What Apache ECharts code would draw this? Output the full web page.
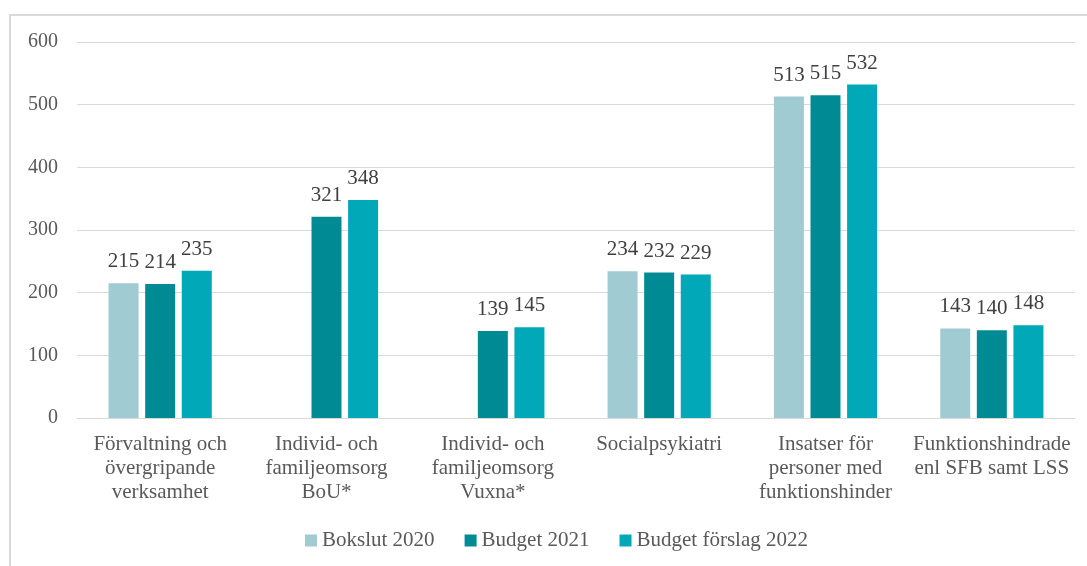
<!DOCTYPE html>
<html>
<head>
<meta charset="utf-8">
<script src="https://cdn.jsdelivr.net/npm/echarts@6/dist/echarts.min.js"></script>
<style>
  html, body { margin: 0; padding: 0; background: #fff; }
  #chart { width: 1087px; height: 566px; }
</style>
</head>
<body>
<div id="chart"></div>
<script>
  const categories = [
    'Förvaltning och\növergripande\nverksamhet',
    'Individ- och\nfamiljeomsorg\nBoU*',
    'Individ- och\nfamiljeomsorg\nVuxna*',
    'Socialpsykiatri',
    'Insatser för\npersoner med\nfunktionshinder',
    'Funktionshindrade\nenl SFB samt LSS'
  ]
  const bokslut2020 = [215, null, null, 234, 513, 143]
  const budget2021 = [214, 321, 139, 232, 515, 140]
  const budgetForslag2022 = [235, 348, 145, 229, 532, 148]
  const yTicks = [0, 100, 200, 300, 400, 500, 600]

  const font = '"Liberation Serif", "Times New Roman", serif'
  const chart = echarts.init(document.getElementById('chart'))

  function barSeries(name, data, color) {
    return {
      name,
      type: 'bar',
      data,
      barWidth: 30,
      barGap: '22%',
      itemStyle: { color },
      label: {
        show: true,
        position: 'top',
        distance: 11,
        color: '#404040',
        fontFamily: font,
        fontSize: 21,
      },
    }
  }

  chart.setOption({
    animation: false,
    textStyle: { fontFamily: font },
    graphic: [
      {
        type: 'rect',
        shape: { x: 10, y: 15, width: 1100, height: 600 },
        style: { fill: 'none', stroke: '#d9d9d9', lineWidth: 2 },
        silent: true,
      },
    ],
    grid: {
      left: 77,
      right: 12,
      top: 42,
      bottom: 148,
    },
    legend: {
      bottom: 10,
      left: 300,
      itemWidth: 12,
      itemHeight: 12,
      itemGap: 30,
      icon: 'rect',
      textStyle: { color: '#595959', fontFamily: font, fontSize: 21 },
      data: ['Bokslut 2020', 'Budget 2021', 'Budget förslag 2022'],
    },
    xAxis: {
      type: 'category',
      data: categories,
      axisTick: { show: false },
      axisLine: { lineStyle: { color: '#d9d9d9' } },
      axisLabel: {
        color: '#595959',
        fontFamily: font,
        fontSize: 21,
        lineHeight: 24,
        margin: 14,
        interval: 0,
      },
    },
    yAxis: {
      type: 'value',
      min: yTicks[0],
      max: yTicks[yTicks.length - 1],
      interval: 100,
      axisLabel: {
        color: '#595959',
        fontFamily: font,
        fontSize: 20,
        margin: 19,
      },
      splitLine: { lineStyle: { color: '#d9d9d9' } },
    },
    series: [
      barSeries('Bokslut 2020', bokslut2020, '#a1cbd2'),
      barSeries('Budget 2021', budget2021, '#008b94'),
      barSeries('Budget förslag 2022', budgetForslag2022, '#00a8b8'),
    ],
  })
</script>
</body>
</html>
